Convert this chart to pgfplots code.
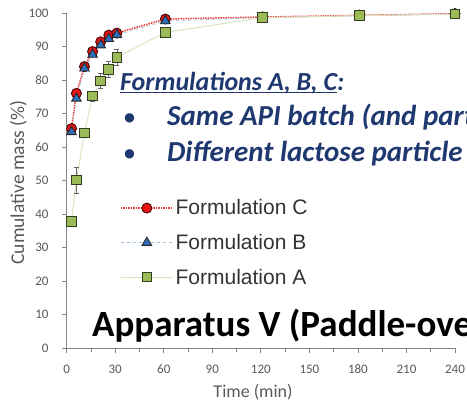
\documentclass[border=0pt]{standalone}
\usepackage{fontspec}
\setmainfont{Carlito}
\newfontfamily\legfont{Liberation Sans}
\usepackage{pgfplots}
\pgfplotsset{compat=1.18}

\definecolor{navytext}{RGB}{32,56,112}
\definecolor{axisgray}{RGB}{134,134,134}
\definecolor{labelgray}{RGB}{89,89,89}
\definecolor{legtext}{RGB}{51,51,51}
\definecolor{cfill}{RGB}{235,20,20}
\definecolor{cline}{RGB}{240,60,60}
\definecolor{bfill}{RGB}{47,110,186}
\definecolor{bline}{RGB}{160,190,225}
\definecolor{afill}{RGB}{155,187,89}
\definecolor{aline}{RGB}{215,228,189}
\definecolor{aedge}{RGB}{50,62,30}

% dissolution profiles: time (min), cumulative mass (%)
\pgfplotstableread{
t   m
3   65.5
6   76.0
11  84.0
16  88.5
21  91.4
26  93.4
31  94.0
61  98.2
121 98.8
181 99.3
240 99.8
}\formC
\pgfplotstableread{
t   m
3   64.5
6   74.5
11  83.5
16  87.6
21  90.4
26  92.3
31  93.5
61  97.6
121 98.6
181 99.2
240 99.7
}\formB
\pgfplotstableread{
t   m     e
3   37.8  0
6   50.1  4.0
11  64.2  0
16  75.2  1.5
21  79.7  2.2
26  83.2  2.4
31  86.8  2.4
61  94.2  1.5
121 98.6  0
181 99.2  0
240 99.7  0
}\formA

\begin{document}
\begin{tikzpicture}
\path[use as bounding box, clip] (0pt,0pt) rectangle (467pt,401pt);
\begin{axis}[
  at={(66.7pt,53pt)}, anchor=south west,
  scale only axis, width=388.3pt, height=335pt,
  xmin=0, xmax=240, ymin=0, ymax=100,
  clip=false,
  axis x line*=bottom, axis y line*=left,
  axis line style={-, draw=axisgray, line width=0.9pt},
  xtick={0,30,...,240}, minor xtick={15,45,...,225},
  ytick={0,10,...,100},
  major tick length=5pt, minor tick length=4pt, tick align=outside,
  tick style={draw=axisgray, line width=0.8pt},
  /pgf/number format/assume math mode=true,
  tick label style={font=\fontsize{13}{13}\selectfont, text=labelgray},
  yticklabel style={anchor=east, inner sep=0pt, xshift=-13pt},
  xticklabel style={anchor=base, inner sep=0pt, yshift=-21pt},
  xlabel={Time (min)},
  ylabel={Cumulative mass (\%)},
  every axis x label/.style={at={(axis description cs:0.48,-0.131)}, anchor=center,
    font=\fontsize{18}{18}\selectfont, text=labelgray},
  every axis y label/.style={at={(axis description cs:-0.1246,0.494)}, anchor=center, rotate=90,
    font=\fontsize{19.5}{19.5}\selectfont, text=labelgray},
  legend image code/.code={%
    \draw[mark repeat=2, mark phase=2, #1] plot coordinates {(0pt,0pt) (26pt,0pt) (52pt,0pt)};},
  legend style={at={(axis description cs:0.137,0.449)}, anchor=north west,
    draw=none, fill=none, font=\legfont\fontsize{21}{21}\selectfont,
    text=legtext, row sep=13.8pt, inner sep=0pt,
    /tikz/every odd column/.append style={xshift=0pt}},
  legend cell align=left,
]
\addplot[cline, densely dotted, line width=1.5pt,
  mark=*, mark size=5pt, mark options={solid, fill=cfill, draw=black!75!red, line width=0.9pt}]
  table[x=t, y=m] {\formC};
\addlegendentry{Formulation C}
\addplot[bline, dashed, line width=0.7pt,
  mark=triangle*, mark size=5.5pt, mark options={solid, fill=bfill, draw=black!85, line width=0.9pt}]
  table[x=t, y=m] {\formB};
\addlegendentry{Formulation B}
\addplot[aline, line width=1pt,
  mark=square*, mark size=4.8pt, mark options={solid, fill=afill, draw=aedge, line width=1pt},
  error bars/.cd, y dir=both, y explicit,
  error bar style={draw=black!60, line width=0.7pt},
  error mark options={rotate=90, mark size=2.5pt, draw=black!60}]
  table[x=t, y=m, y error=e] {\formA};
\addlegendentry{Formulation A}
\end{axis}

% callout text over the plot
\node[anchor=base west, inner sep=0pt, text=navytext,
  font=\fontsize{26}{26}\selectfont\bfseries\itshape]
  at (120pt,310pt) {\underline{\smash{Formulations A, B, C}}:};
\node[anchor=base west, inner sep=0pt, text=navytext, font=\fontsize{22}{22}\selectfont\bfseries]
  at (124pt,276pt) {\textbullet};
\node[anchor=base west, inner sep=0pt, text=navytext,
  font=\fontsize{29}{29}\selectfont\bfseries\itshape]
  at (167pt,275pt) {Same API batch (and particle size)};
\node[anchor=base west, inner sep=0pt, text=navytext, font=\fontsize{22}{22}\selectfont\bfseries]
  at (124pt,240pt) {\textbullet};
\node[anchor=base west, inner sep=0pt, text=navytext,
  font=\fontsize{29}{29}\selectfont\bfseries\itshape]
  at (167pt,239pt) {Different lactose particle size};
\node[anchor=base west, inner sep=0pt, text=black,
  font=\fontsize{37}{37}\selectfont\bfseries]
  at (92pt,64.5pt) {Apparatus V (Paddle-over-disk)};
\end{tikzpicture}
\end{document}
